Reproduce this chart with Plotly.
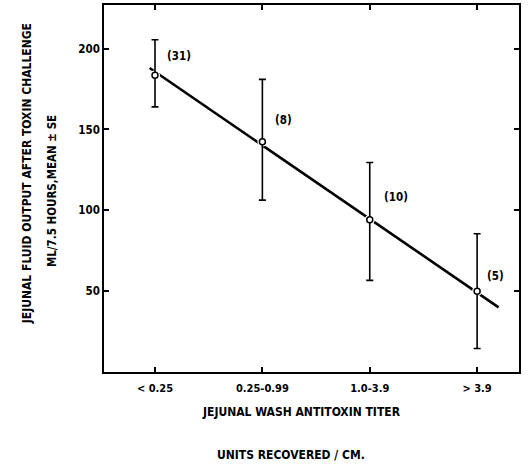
import plotly.graph_objects as go

categories = ["< 0.25", "0.25-0.99", "1.0-3.9", "> 3.9"]
means = [183.5, 142.4, 94.1, 50.0]
upper = [205.5, 181.0, 129.6, 85.5]
lower = [164.0, 106.3, 56.7, 14.5]
n_labels = ["(31)", "(8)", "(10)", "(5)"]
fit_x = [-0.05, 3.2]
fit_y = [188.0, 40.0]

xi = list(range(len(categories)))
err_plus = [u - m for u, m in zip(upper, means)]
err_minus = [m - l for m, l in zip(means, lower)]

FONT = "DejaVu Sans Condensed, Liberation Sans Narrow, Arial Narrow, sans-serif"

fig = go.Figure()
fig.add_trace(go.Scatter(x=fit_x, y=fit_y, mode="lines",
                         line=dict(color="black", width=2.6), hoverinfo="skip"))
fig.add_trace(go.Scatter(x=xi, y=means, mode="markers",
                         marker=dict(size=10, color="white", line=dict(width=0)),
                         hoverinfo="skip"))
fig.add_trace(go.Scatter(x=xi, y=means, mode="markers",
                         marker=dict(size=6, color="white", line=dict(color="black", width=1.5)),
                         error_y=dict(type="data", symmetric=False, array=err_plus,
                                      arrayminus=err_minus, color="black",
                                      thickness=1.6, width=3.5)))

label_dx = [10, 11, 12, 8]
label_dy = [19, 22, 23, 15]
for i, lab in enumerate(n_labels):
    fig.add_annotation(x=xi[i], y=means[i], text="<b>" + lab + "</b>", showarrow=False,
                       xanchor="left", yanchor="middle", xshift=label_dx[i],
                       yshift=label_dy[i],
                       font=dict(family=FONT, size=11.5, color="black"))

fig.add_annotation(xref="paper", yref="paper", x=0, y=0.539, xshift=-86,
                   text="<b>JEJUNAL FLUID OUTPUT AFTER TOXIN CHALLENGE</b>",
                   textangle=-90, showarrow=False,
                   font=dict(family=FONT, size=12, color="black"))
fig.add_annotation(xref="paper", yref="paper", x=0, y=0.493, xshift=-61,
                   text="<b>ML/7.5 HOURS,MEAN ± SE</b>",
                   textangle=-90, showarrow=False,
                   font=dict(family=FONT, size=11.5, color="black"))
fig.add_annotation(xref="paper", yref="paper", x=0.475, y=0, yshift=-40,
                   text="<b>JEJUNAL WASH ANTITOXIN TITER</b>", showarrow=False,
                   yanchor="middle", font=dict(family=FONT, size=12, color="black"))
fig.add_annotation(xref="paper", yref="paper", x=0.451, y=0, yshift=-83,
                   text="<b>UNITS RECOVERED / CM.</b>", showarrow=False,
                   yanchor="middle", font=dict(family=FONT, size=12, color="black"))

fig.update_layout(
    width=528, height=466,
    margin=dict(l=104, r=9, t=3, b=94),
    paper_bgcolor="white", plot_bgcolor="white",
    showlegend=False,
    font=dict(family=FONT, color="black"),
)
fig.update_xaxes(range=[-0.475, 3.39], tickvals=xi, ticktext=["<b>" + c + "</b>" for c in categories],
                 ticks="inside", ticklen=5, tickwidth=1.5, tickcolor="black",
                 showline=True, linecolor="black", linewidth=1.5, mirror="ticks",
                 showgrid=False, zeroline=False, ticklabelstandoff=5,
                 tickfont=dict(family=FONT, size=11))
fig.update_yaxes(range=[0, 227], tickvals=[50, 100, 150, 200],
                 ticktext=["<b>50</b>", "<b>100</b>", "<b>150</b>", "<b>200</b>"],
                 ticks="inside", ticklen=5, tickwidth=1.5, tickcolor="black",
                 showline=True, linecolor="black", linewidth=1.5, mirror="ticks",
                 showgrid=False, zeroline=False, tickfont=dict(family=FONT, size=11.5))

fig.write_html("out.html")
